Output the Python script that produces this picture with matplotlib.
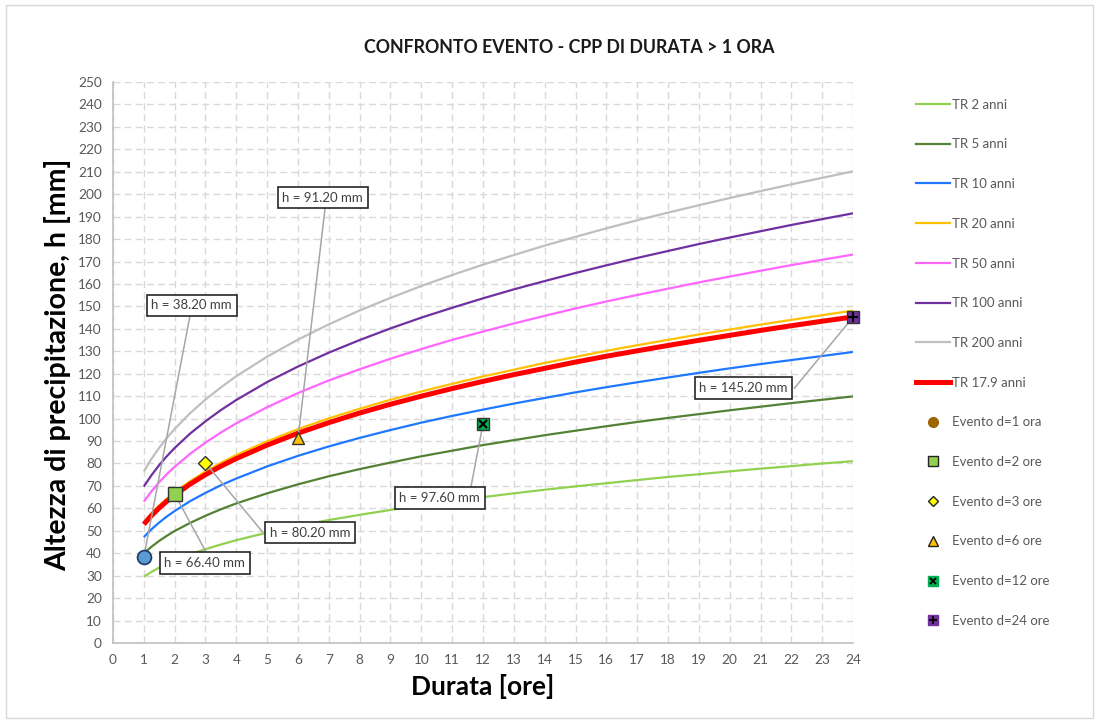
#Confronto evento - curve di possibilita pluviometrica (durata > 1 ora)
import numpy as np
import matplotlib.pyplot as plt
from matplotlib.lines import Line2D
from matplotlib.patches import Rectangle

plt.rcParams['font.family'] = ['Lato', 'DejaVu Sans']

durata = [1, 1.25, 1.5, 1.75, 2, 2.5, 3, 3.5] + list(range(4, 25))

tr2 = [29.5, 31.7, 33.6, 35.2, 36.8, 39.5, 41.8, 43.9, 45.8, 49.2, 52.2, 54.8, 57.1, 59.3,
       61.4, 63.2, 65.0, 66.7, 68.3, 69.8, 71.2, 72.6, 74.0, 75.2, 76.5, 77.7, 78.8, 80.0, 81.0]
tr5 = [40.0, 42.9, 45.5, 47.8, 49.9, 53.5, 56.7, 59.6, 62.2, 66.7, 70.7, 74.3, 77.5, 80.4,
       83.2, 85.7, 88.2, 90.4, 92.6, 94.6, 96.6, 98.5, 100.3, 102.0, 103.7, 105.3, 106.9, 108.4, 109.9]
tr10 = [47.2, 50.7, 53.7, 56.4, 58.8, 63.2, 66.9, 70.3, 73.3, 78.7, 83.4, 87.6, 91.4, 94.9,
        98.2, 101.2, 104.0, 106.7, 109.2, 111.7, 114.0, 116.2, 118.3, 120.4, 122.4, 124.3, 126.1, 127.9, 129.7]
tr20 = [53.9, 57.9, 61.3, 64.4, 67.2, 72.1, 76.4, 80.3, 83.8, 89.9, 95.3, 100.1, 104.4, 108.4,
        112.1, 115.5, 118.8, 121.8, 124.8, 127.5, 130.2, 132.7, 135.1, 137.5, 139.7, 141.9, 144.0, 146.1, 148.1]
tr50 = [63.0, 67.6, 71.7, 75.3, 78.5, 84.3, 89.3, 93.8, 97.9, 105.1, 111.4, 117.0, 122.0, 126.7,
        131.0, 135.1, 138.8, 142.4, 145.8, 149.1, 152.2, 155.1, 157.9, 160.7, 163.3, 165.9, 168.4, 170.8, 173.1]
tr100 = [69.7, 74.8, 79.3, 83.3, 86.9, 93.3, 98.8, 103.8, 108.3, 116.3, 123.2, 129.4, 135.0, 140.2,
         145.0, 149.4, 153.6, 157.6, 161.3, 164.9, 168.3, 171.6, 174.7, 177.8, 180.7, 183.5, 186.3, 188.9, 191.5]
tr200 = [76.5, 82.1, 87.0, 91.4, 95.4, 102.4, 108.5, 113.9, 118.9, 127.6, 135.2, 142.0, 148.2, 153.8,
         159.1, 164.0, 168.6, 172.9, 177.1, 181.0, 184.8, 188.4, 191.8, 195.1, 198.3, 201.4, 204.4, 207.3, 210.2]
tr179 = [52.9, 56.8, 60.2, 63.2, 65.9, 70.8, 75.0, 78.8, 82.2, 88.2, 93.5, 98.2, 102.5, 106.4,
         110.0, 113.4, 116.6, 119.6, 122.4, 125.2, 127.8, 130.2, 132.6, 134.9, 137.1, 139.3, 141.4, 143.4, 145.3]

ev_d = [1, 2, 3, 6, 12, 24]
ev_h = [38.2, 66.4, 80.2, 91.2, 97.6, 145.2]
ev_labels = ['Evento d=1 ora', 'Evento d=2 ore', 'Evento d=3 ore',
             'Evento d=6 ore', 'Evento d=12 ore', 'Evento d=24 ore']

fig = plt.figure(figsize=(11.01, 7.24), dpi=100)
ax = fig.add_axes([0.1026, 0.1119, 0.6722, 0.7748])

curves = [('TR 2 anni', tr2, '#92D050', 1.6),
          ('TR 5 anni', tr5, '#548235', 1.6),
          ('TR 10 anni', tr10, '#1F78FF', 1.6),
          ('TR 20 anni', tr20, '#FFC000', 1.6),
          ('TR 50 anni', tr50, '#FF66FF', 1.6),
          ('TR 100 anni', tr100, '#7030A0', 1.6),
          ('TR 200 anni', tr200, '#BFBFBF', 1.6),
          ('TR 17.9 anni', tr179, '#FF0000', 3.6)]
handles = []
for lab, h, c, lw in curves:
    ax.plot(durata, h, color=c, lw=lw, zorder=3, solid_capstyle='butt')
    handles.append(Line2D([], [], color=c, lw=lw))

# annotation boxes (text, box position, line start)
ann = [('h = 38.20 mm', (2.55, 150.5), (2.5, 146)),
       ('h = 66.40 mm', (2.98, 35.6), (3.0, 41.0)),
       ('h = 80.20 mm', (6.4, 49.2), (4.85, 49.5)),
       ('h = 91.20 mm', (6.8, 198.5), (6.88, 194)),
       ('h = 97.60 mm', (10.6, 64.6), (11.6, 69.0)),
       ('h = 145.20 mm', (20.45, 113.6), (22.1, 113.6))]
for (txt, bpos, lpos), d, h in zip(ann, ev_d, ev_h):
    ax.plot([lpos[0], d], [lpos[1], h], color='#A6A6A6', lw=1.1, zorder=4)
    ax.text(bpos[0], bpos[1], txt, ha='center', va='center', fontsize=9.5, color='#404040',
            bbox=dict(boxstyle='square,pad=0.35', fc='white', ec='#262626', lw=1.2), zorder=6)

ek = dict(mec='#333333', mew=1.0, ls='none', zorder=5, clip_on=False)
ax.plot(ev_d[0], ev_h[0], 'o', ms=10, mfc='#5B9BD5', mec='#1F3864', mew=1.2, ls='none', zorder=5)
ax.plot(ev_d[1], ev_h[1], 's', ms=10, mfc='#92D050', **ek)
ax.plot(ev_d[2], ev_h[2], 'D', ms=7, mfc='#FFFF00', **ek)
ax.plot(ev_d[3], ev_h[3], '^', ms=9, mfc='#FFC000', **ek)
ax.plot(ev_d[4], ev_h[4], 's', ms=9, mfc='#00B050', **ek)
ax.plot(ev_d[4], ev_h[4], 'x', ms=6, mec='black', mew=1.5, ls='none', zorder=6)
ax.plot(ev_d[5], ev_h[5], 's', ms=9, mfc='#7030A0', **ek)
ax.plot(ev_d[5], ev_h[5], '+', ms=7, mec='black', mew=1.5, ls='none', zorder=6, clip_on=False)

handles += [Line2D([], [], marker='o', ms=7, mfc='#9C6500', mec='#9C6500', ls='none'),
            Line2D([], [], marker='s', ms=7, mfc='#92D050', mec='#222222', ls='none'),
            Line2D([], [], marker='D', ms=5, mfc='#FFFF00', mec='#222222', ls='none'),
            Line2D([], [], marker='^', ms=7, mfc='#FFC000', mec='#222222', ls='none'),
            (Line2D([], [], marker='s', ms=7, mfc='#00B050', mec='#00B050', ls='none'),
             Line2D([], [], marker='x', ms=5, mec='black', mew=1.3, ls='none')),
            (Line2D([], [], marker='s', ms=7, mfc='#7030A0', mec='#7030A0', ls='none'),
             Line2D([], [], marker='+', ms=6, mec='black', mew=1.3, ls='none'))]
labels = [c[0] for c in curves] + ev_labels

leg = fig.legend(handles, labels, loc='upper left', bbox_to_anchor=(0.827, 0.871),
                 frameon=False, fontsize=9.5, labelspacing=2.1, handlelength=2.6,
                 handletextpad=0.15, borderaxespad=0)
for t in leg.get_texts():
    t.set_color('#595959')

ax.set_xlim(0, 24)
ax.set_ylim(0, 250)
ax.set_xticks(range(0, 25))
ax.set_yticks(range(0, 251, 10))
ax.grid(True, color='#D9D9D9', ls=(0, (5, 3)), lw=1.0)
ax.set_axisbelow(True)
for s in ['top', 'right']:
    ax.spines[s].set_visible(False)
for s in ['left', 'bottom']:
    ax.spines[s].set_color('#BFBFBF')
    ax.spines[s].set_linewidth(1.2)
ax.tick_params(length=0, labelsize=9.8, labelcolor='#595959', pad=8)

ax.set_xlabel('Durata [ore]', fontsize=19, fontweight='bold', labelpad=6)
ax.set_ylabel('Altezza di precipitazione, h [mm]', fontsize=20.5, fontweight='bold')
ax.yaxis.set_label_coords(-0.057, 0.4955)
fig.text(0.517, 0.935, 'CONFRONTO EVENTO - CPP DI DURATA > 1 ORA', ha='center', va='center',
         fontsize=12.8, fontweight='bold', color='#1a1a1a')

fig.patches.append(Rectangle((0.005, 0.008), 0.988, 0.985, transform=fig.transFigure,
                             fill=False, ec='#D9D9D9', lw=1))

fig.savefig('out.png', dpi=100)
